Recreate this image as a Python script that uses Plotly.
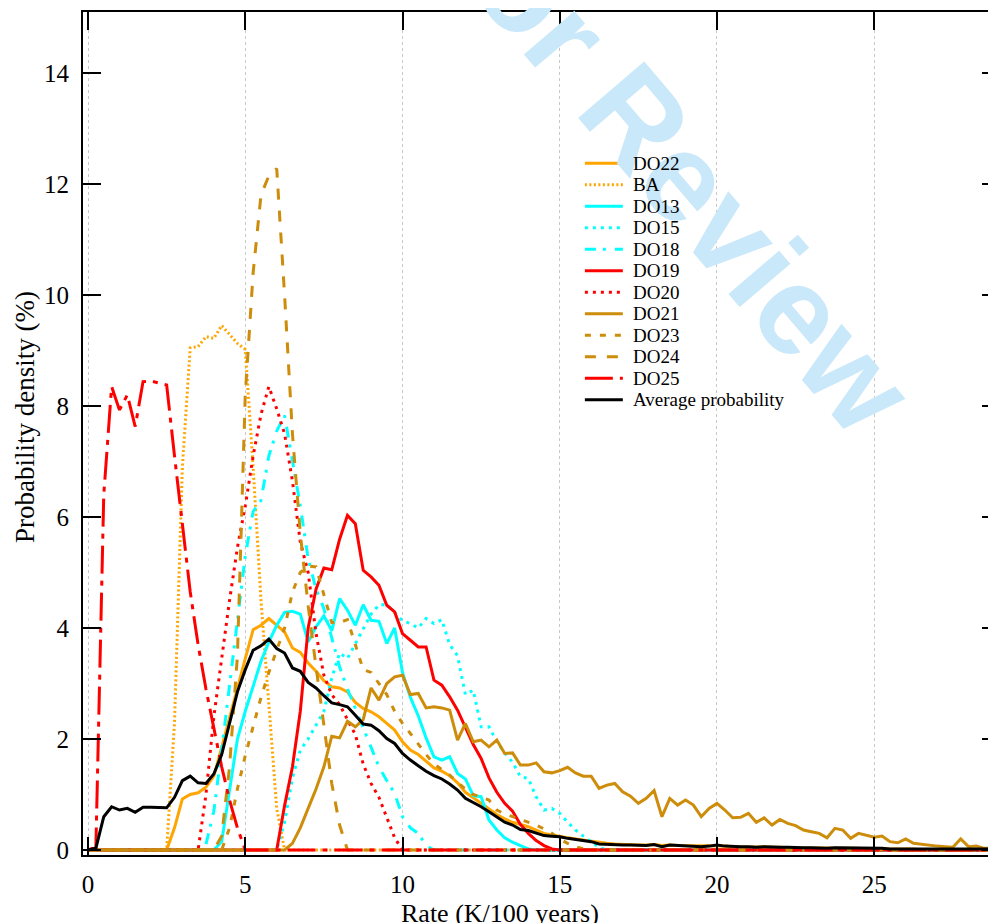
import numpy as np
import plotly.graph_objects as go

# ---------------- data (probability density, %, in 0.25 K/100yr bins) ----------------
RATE_STEP = 0.25
RATE_MAX = 29.0

do22_start = 2.5
do22 = [0, 0.4, 0.92, 1.0, 1.03, 1.13, 1.33, 1.85, 2.4, 2.95, 3.45, 3.97, 4.05, 4.17, 4.05, 3.93,
        3.64, 3.56, 3.37, 3.22, 3.05, 2.94, 2.92, 2.85, 2.66, 2.55, 2.49, 2.4, 2.28, 2.16, 1.95, 1.8,
        1.72, 1.6, 1.48, 1.42, 1.34, 1.21, 1.04, 0.94, 0.84, 0.75, 0.64, 0.56, 0.5, 0.46, 0.42, 0.36,
        0.3, 0.27, 0.24, 0.22, 0.2, 0.18, 0.16, 0.13, 0.12, 0.11, 0.1, 0.1, 0.09, 0.09, 0.1, 0.08,
        0.09, 0.08, 0.08, 0.07, 0.07, 0.07, 0.08, 0.07, 0.06, 0.06, 0.06, 0.05, 0.05, 0.05, 0.05, 0.04,
        0.04, 0.04, 0.04, 0.03, 0.03, 0.03, 0.03, 0.03, 0.03, 0.02, 0.02, 0.02, 0.02, 0.02, 0.02, 0.02]

ba_start = 2.5
ba = [0, 2.3, 6.9, 9.05, 9.07, 9.25, 9.22, 9.45, 9.28, 9.13, 9.02, 6.9, 4.5, 2.6, 0.75, 0]

do13_start = 4.0
do13 = [0, 0.15, 1.1, 2.0, 2.5, 2.95, 3.4, 3.75, 4.05, 4.28, 4.3, 4.25, 3.75, 4.02, 4.22, 3.95,
        4.53, 4.32, 4.05, 4.42, 4.14, 4.12, 3.72, 4.0, 3.2, 2.75, 2.42, 2.02, 1.68, 1.62, 1.68, 1.38,
        1.28, 0.98, 0.96, 0.54, 0.36, 0.22, 0.14, 0.08, 0.02, 0]

do15_start = 6.0
do15 = [0, 0.5, 1.3, 1.8, 2.0, 2.25, 2.5, 3.1, 3.55, 3.45, 3.72, 4.0, 4.25, 4.42, 4.42, 4.28,
        4.13, 4.08, 4.0, 4.17, 4.08, 4.15, 3.7, 3.5, 2.8, 2.88, 2.22, 2.22, 1.95, 1.75, 1.58, 1.32,
        1.29, 0.96, 0.72, 0.75, 0.66, 0.5, 0.36, 0.25, 0.15, 0.05, 0]

do18_start = 3.5
do18 = [0, 0.1, 0.7, 1.8, 3.0, 4.1, 5.3, 6.1, 6.3, 7.1, 7.55, 7.83, 7.0, 6.2, 5.25, 4.7,
        4.35, 3.8, 3.3, 2.9, 2.55, 2.2, 1.88, 1.5, 1.25, 1.02, 0.6, 0.4, 0.3, 0.08, 0]

do19_start = 6.0
do19 = [0, 0.8, 1.5, 2.5, 4.0, 4.7, 5.08, 5.05, 5.6, 6.03, 5.88, 5.04, 4.92, 4.77, 4.41, 4.29,
        3.9, 3.78, 3.66, 3.66, 3.06, 2.97, 2.76, 2.52, 2.22, 1.9, 1.65, 1.3, 1.04, 0.84, 0.7, 0.46,
        0.3, 0.17, 0.08, 0.02, 0]

do20_start = 3.5
do20 = [0, 1.0, 2.4, 3.45, 4.5, 5.45, 6.2, 7.1, 7.85, 8.35, 7.95, 7.5, 6.65, 5.55, 5.0, 3.9,
        3.15, 2.8, 2.62, 2.35, 2.08, 1.55, 1.2, 0.95, 0.58, 0.22, 0]

do21_start = 6.25
do21 = [0, 0.12, 0.4, 0.75, 1.1, 1.5, 2.05, 2.02, 2.32, 2.22, 2.35, 2.92, 2.7, 3.0, 3.12, 3.15,
        2.8, 2.82, 2.56, 2.58, 2.56, 2.52, 1.98, 2.28, 1.95, 1.98, 1.86, 1.98, 1.74, 1.75, 1.53, 1.53,
        1.57, 1.41, 1.39, 1.43, 1.49, 1.39, 1.33, 1.33, 1.11, 1.17, 1.2, 1.05, 0.97, 0.84, 0.93, 1.07,
        0.6, 0.93, 0.81, 0.9, 0.81, 0.6, 0.75, 0.84, 0.72, 0.58, 0.59, 0.66, 0.5, 0.58, 0.45, 0.55,
        0.48, 0.44, 0.36, 0.33, 0.3, 0.22, 0.39, 0.36, 0.21, 0.3, 0.27, 0.23, 0.25, 0.15, 0.13, 0.2,
        0.12, 0.1, 0.09, 0.07, 0.06, 0.05, 0.2, 0.06, 0.07, 0.03, 0.03, 0.03]

do23_start = 4.25
do23 = [0, 0.4, 1.1, 1.7, 2.25, 2.75, 3.2, 3.6, 4.0, 4.65, 5.0, 5.12, 5.1, 4.6, 4.1, 4.1,
        4.15, 3.7, 3.25, 3.2, 3.0, 2.8, 2.5, 2.28, 2.1, 1.9, 1.72, 1.55, 1.45, 1.35, 1.22, 1.1,
        1.0, 0.95, 0.9, 0.72, 0.65, 0.6, 0.55, 0.5, 0.45, 0.38, 0.3, 0.2, 0.12, 0.06, 0.02, 0]

do24_start = 4.0
do24 = [0, 0.25, 1.5, 3.5, 8.2, 10.4, 11.8, 12.15, 12.28, 10.0, 7.5, 5.7, 4.4, 3.3, 2.2, 1.2,
        0.45, 0]

do25_start = 0.0
do25 = [0, 0.05, 6.4, 8.35, 7.93, 8.2, 7.63, 8.44, 8.45, 8.42, 8.38, 7.1, 5.85, 4.65, 3.7, 2.9,
        2.2, 1.5, 0.9, 0.4, 0]

avg_start = 0.0
avg = [0, 0.03, 0.6, 0.78, 0.72, 0.75, 0.68, 0.77, 0.77, 0.77, 0.76, 0.95, 1.25, 1.33, 1.21, 1.2,
       1.37, 1.72, 2.3, 2.85, 3.25, 3.6, 3.68, 3.8, 3.63, 3.55, 3.28, 3.22, 3.02, 2.92, 2.78, 2.65,
       2.62, 2.58, 2.43, 2.27, 2.25, 2.15, 2.01, 1.92, 1.74, 1.62, 1.52, 1.42, 1.34, 1.28, 1.19, 1.08,
       0.93, 0.86, 0.78, 0.69, 0.6, 0.5, 0.45, 0.37, 0.35, 0.3, 0.26, 0.25, 0.24, 0.21, 0.19, 0.17,
       0.15, 0.11, 0.1, 0.1, 0.09, 0.09, 0.08, 0.08, 0.1, 0.06, 0.09, 0.08, 0.07, 0.07, 0.06, 0.07,
       0.09, 0.07, 0.06, 0.06, 0.06, 0.05, 0.06, 0.05, 0.05, 0.05, 0.04, 0.04, 0.04, 0.03, 0.03, 0.04,
       0.04, 0.03, 0.03, 0.03, 0.03, 0.03, 0.02, 0.02, 0.03, 0.02, 0.02, 0.02, 0.02, 0.02, 0.02, 0.03,
       0.02, 0.02, 0.02, 0.02, 0.02]

x_ticks = [0, 5, 10, 15, 20, 25]
y_ticks = [0, 2, 4, 6, 8, 10, 12, 14]

# ---------------- helpers ----------------
rate = np.round(np.arange(0, RATE_MAX + RATE_STEP / 2, RATE_STEP), 2)


def on_grid(start, vals):
    """Place listed bin values on the common rate grid (bins outside the list are empty: 0)."""
    y = np.zeros_like(rate)
    i0 = int(round(start / RATE_STEP))
    n = min(len(vals), len(rate) - i0)
    y[i0:i0 + n] = vals[:n]
    return y


ORANGE = "#FFA500"
CYAN = "#00FFFF"
RED = "#FF0000"
GOLD = "#CD8C0A"

series = [
    ("DO22", do22_start, do22, ORANGE, "solid"),
    ("BA", ba_start, ba, ORANGE, "2px,2.5px"),
    ("DO13", do13_start, do13, CYAN, "solid"),
    ("DO15", do15_start, do15, CYAN, "3px,5px"),
    ("DO18", do18_start, do18, CYAN, "11px,7px,3px,9px"),
    ("DO19", do19_start, do19, RED, "solid"),
    ("DO20", do20_start, do20, RED, "3px,5px"),
    ("DO21", do21_start, do21, GOLD, "solid"),
    ("DO23", do23_start, do23, GOLD, "6px,9px"),
    ("DO24", do24_start, do24, GOLD, "11px,11px"),
    ("DO25", do25_start, do25, RED, "28px,7px,5px,7px"),
    ("Average probability", avg_start, avg, "#000000", "solid"),
]

fig = go.Figure()
for name, start, vals, color, dash in series:
    fig.add_trace(go.Scatter(
        x=rate, y=on_grid(start, vals), mode="lines", name=name,
        line=dict(color=color, width=3, dash=dash), showlegend=False,
    ))

SERIF = "Liberation Serif"

# ---- compact legend (drawn in paper coordinates) ----
LEG_X0, LEG_X1, LEG_TX = 0.5473, 0.5887, 0.5974
LEG_Y0, LEG_DY = 0.8205, 0.0255
shapes = []
annotations = []
for i, (name, _s, _v, color, dash) in enumerate(series):
    yy = LEG_Y0 - i * LEG_DY
    shapes.append(dict(type="line", xref="paper", yref="paper", x0=LEG_X0, x1=LEG_X1, y0=yy, y1=yy,
                       line=dict(color=color, width=3, dash=dash)))
    annotations.append(dict(text=name, xref="paper", yref="paper", x=LEG_TX, y=yy,
                            xanchor="left", yanchor="middle", showarrow=False,
                            font=dict(family=SERIF, size=19, color="black")))

annotations = [
    dict(text="For Review", xref="paper", yref="paper", x=0.640, y=0.826,
         xanchor="center", yanchor="middle", showarrow=False, textangle=49.5,
         font=dict(family="Liberation Sans", size=126, color="#C9E8FA", weight="bold")),
] + annotations + [
    dict(text="Rate (K/100 years)", xref="paper", yref="paper", x=0.455, y=-0.069,
         xanchor="center", yanchor="middle", showarrow=False,
         font=dict(family=SERIF, size=26)),
    dict(text="Probability density (%)", xref="paper", yref="paper", x=-0.064, y=0.52,
         xanchor="center", yanchor="middle", showarrow=False, textangle=-90,
         font=dict(family=SERIF, size=27)),
]

# The page body adds an 8px offset; margins compensate so the plot lands where the reference has it.
fig.update_layout(
    width=996, height=923,
    margin=dict(l=75, r=2, t=4, b=76),
    paper_bgcolor="white", plot_bgcolor="white",
    font=dict(family=SERIF, size=25, color="black"),
    showlegend=False,
    xaxis=dict(
        range=[-0.16, 29.0], tickvals=x_ticks, ticks="inside", ticklen=18, tickwidth=1.5,
        tickcolor="black", showline=True, linewidth=2, linecolor="black", mirror="ticks",
        showgrid=True, gridcolor="#c8c8c8", griddash="dot", gridwidth=1, zeroline=False,
        tickfont=dict(family=SERIF, size=25), ticklabelstandoff=6,
    ),
    yaxis=dict(
        range=[-0.09, 15.1], tickvals=y_ticks, ticks="inside", ticklen=18, tickwidth=1.5,
        tickcolor="black", showline=True, linewidth=2, linecolor="black", mirror="ticks",
        showgrid=False, zeroline=False,
        tickfont=dict(family=SERIF, size=25), ticklabelstandoff=7,
    ),
    shapes=shapes,
    annotations=annotations,
)

fig.write_html("out.html")
